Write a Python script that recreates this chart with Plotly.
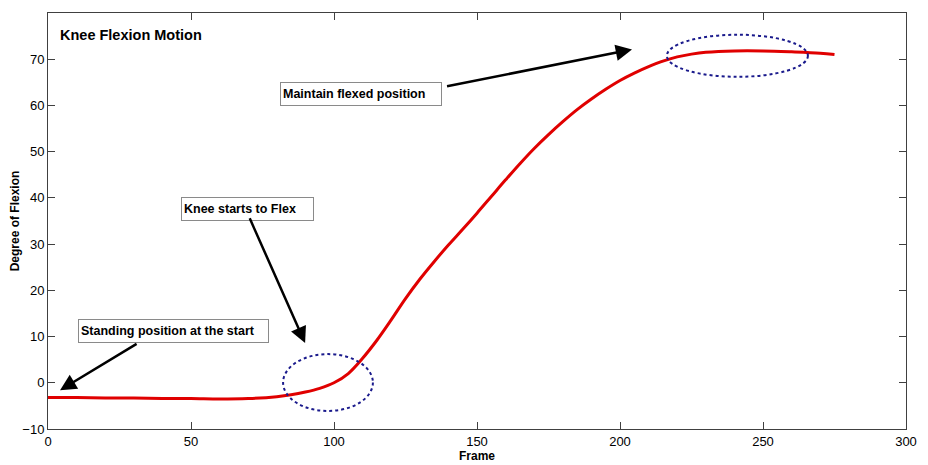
import plotly.graph_objects as go

frames = [0, 10, 20, 30, 40, 50, 60, 70, 80, 85, 90, 95, 100, 105, 110, 115, 120, 125, 130,
          135, 140, 145, 150, 155, 160, 165, 170, 175, 180, 185, 190, 195, 200, 205, 210, 215,
          220, 225, 230, 240, 250, 260, 270, 275]
flexion = [-3.2, -3.2, -3.3, -3.3, -3.4, -3.4, -3.5, -3.4, -3.0, -2.6, -2.0, -1.2, 0.0, 2.0, 5.3,
           9.2, 13.6, 18.2, 22.4, 26.2, 29.8, 33.2, 36.7, 40.3, 43.9, 47.4, 50.7, 53.7, 56.5,
           59.1, 61.4, 63.5, 65.4, 67.0, 68.4, 69.6, 70.5, 71.1, 71.5, 71.8, 71.8, 71.6, 71.3, 71.0]

title_text = "Knee Flexion Motion"
x_title = "Frame"
y_title = "Degree of Flexion"

# annotation texts and anchor points (data coords)
notes = [
    {"text": "Standing position at the start", "x": 43.9, "y": 11.3, "w": 185},
    {"text": "Knee starts to Flex", "x": 69.8, "y": 37.7, "w": 127},
    {"text": "Maintain flexed position", "x": 109.4, "y": 62.4, "w": 156},
]
arrows = [
    {"tail": (31.5, 8.6), "head": (4.2, -1.6)},
    {"tail": (70.3, 35.9), "head": (89.9, 8.6)},
    {"tail": (139.0, 64.1), "head": (204.2, 72.1)},
]
ellipses = [
    {"x0": 82.2, "x1": 113.6, "y0": -6.1, "y1": 6.2},
    {"x0": 216.4, "x1": 265.7, "y0": 66.2, "y1": 75.3},
]

fig = go.Figure()
fig.add_trace(go.Scatter(x=frames, y=flexion, mode="lines",
                         line=dict(color="#e00000", width=3, shape="spline", smoothing=1.0),
                         showlegend=False, hoverinfo="skip"))

font_family = "Liberation Sans, Arial, sans-serif"

for n in notes:
    fig.add_annotation(x=n["x"], y=n["y"], xref="x", yref="y", text="<b>" + n["text"] + "</b>",
                       showarrow=False, align="left", width=n["w"], height=18,
                       bordercolor="#8a8a8a", borderwidth=1, borderpad=2, bgcolor="white",
                       font=dict(family=font_family, size=12.5, color="black"))

for a in arrows:
    fig.add_annotation(x=a["head"][0], y=a["head"][1], ax=a["tail"][0], ay=a["tail"][1],
                       xref="x", yref="y", axref="x", ayref="y", text="",
                       showarrow=True, arrowhead=2, arrowsize=1.3, arrowwidth=2.5,
                       arrowcolor="black", standoff=0, startstandoff=0)

for e in ellipses:
    fig.add_shape(type="circle", xref="x", yref="y", x0=e["x0"], x1=e["x1"], y0=e["y0"], y1=e["y1"],
                  line=dict(color="#1a1a8c", width=2, dash="dot"))

fig.add_annotation(x=3.6, y=75.3, xref="x", yref="y", text="<b>" + title_text + "</b>",
                   showarrow=False, xanchor="left", yanchor="middle",
                   font=dict(family=font_family, size=14.5, color="black"))

axis_common = dict(showline=True, mirror="ticks", linecolor="#404040", linewidth=1,
                   ticks="inside", ticklen=7, tickcolor="#404040", showgrid=False, zeroline=False,
                   automargin=False,
                   tickfont=dict(family=font_family, size=13, color="black"))

fig.update_xaxes(range=[0, 300], dtick=50, tick0=0,
                 title=dict(text="<b>" + x_title + "</b>", standoff=2,
                            font=dict(family=font_family, size=12, color="black")),
                 **axis_common)
fig.update_yaxes(range=[-10, 80], dtick=10, tick0=0,
                 title=dict(text="<b>" + y_title + "</b>", standoff=4,
                            font=dict(family=font_family, size=12, color="black")),
                 **axis_common)

# page body has an 8px margin, so the figure is sized to fit the 928x465 window
fig.update_layout(width=920, height=457, margin=dict(l=40, r=22, t=5, b=36),
                  plot_bgcolor="white", paper_bgcolor="white")

fig.write_html("out.html")
